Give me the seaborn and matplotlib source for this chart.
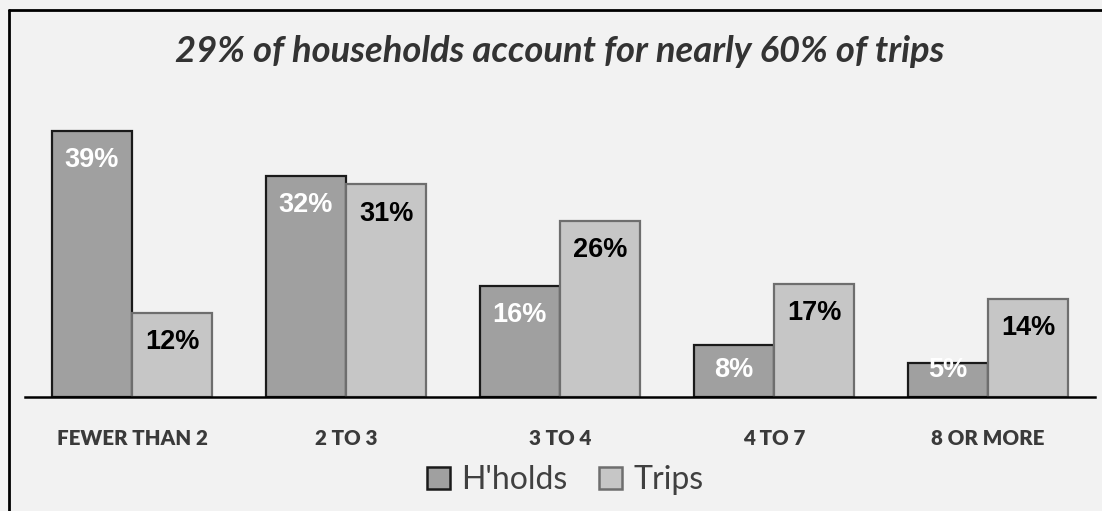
import pandas as pd
import matplotlib.pyplot as plt
import seaborn as sns
from matplotlib.lines import Line2D
from matplotlib.patches import Patch

# Data
categorias = ['FEWER THAN 2', '2 TO 3', '3 TO 4', '4 TO 7', '8 OR MORE']
hholds = [39.0, 32.4, 16.3, 7.6, 5.0]
trips = [12.3, 31.1, 25.8, 16.6, 14.4]
series = ["H'holds", 'Trips']
titulo = '29% of households account for nearly 60% of trips'

FUNDO = '#f2f2f2'
CORES = {"H'holds": '#a0a0a0', 'Trips': '#c6c6c6'}
BORDAS = {"H'holds": '#1a1a1a', 'Trips': '#6e6e6e'}
COR_ROTULO = {"H'holds": 'white', 'Trips': 'black'}

df = pd.DataFrame({
    'categoria': categorias * 2,
    'serie': [series[0]] * len(categorias) + [series[1]] * len(categorias),
    'valor': hholds + trips,
})

sns.set_theme(style='white')
plt.rcParams['font.family'] = ['Lato', 'DejaVu Sans']

fig = plt.figure(figsize=(11.02, 5.11), dpi=100, facecolor=FUNDO)
ax = fig.add_axes([25 / 1102, 1 - 397 / 511, 1070 / 1102, 287 / 511])
ax.set_facecolor(FUNDO)

sns.barplot(data=df, x='categoria', y='valor', hue='serie', order=categorias,
            hue_order=series, palette=CORES, width=0.75, saturation=1,
            linewidth=1.6, legend=False, ax=ax)

# Rotulos dentro das barras
for serie, cont in zip(series, ax.containers):
    for barra in cont:
        barra.set_edgecolor(BORDAS[serie])
        v = barra.get_height()
        y = max(v - 4.3, 3.9)
        ax.text(barra.get_x() + barra.get_width() / 2, y, f'{v:.0f}%',
                ha='center', va='center', fontsize=19.5, fontweight='bold',
                color=COR_ROTULO[serie], family=['Liberation Sans', 'DejaVu Sans'])

ax.set_xlim(-0.5, 4.5)
ax.set_ylim(0, 42)
ax.set_xlabel('')
ax.set_ylabel('')
ax.set_yticks([])
for lado in ['top', 'left', 'right']:
    ax.spines[lado].set_visible(False)
ax.spines['bottom'].set_color('black')
ax.spines['bottom'].set_linewidth(1.8)
ax.tick_params(axis='x', length=0, pad=23)
for rot in ax.get_xticklabels():
    rot.set_fontsize(14.8)
    rot.set_fontweight('heavy')
    rot.set_color('#3a3a3a')

# Titulo
fig.text(560 / 1102, 1 - 52 / 511, titulo, ha='center', va='center',
         fontsize=26.2, fontweight='bold', style='italic', color='#333333')

# Legenda
alcas = [Patch(facecolor=CORES[s], edgecolor=BORDAS[s], linewidth=1.8, label=s)
         for s in series]
leg = fig.legend(handles=alcas, loc='center', bbox_to_anchor=(565 / 1102, 1 - 480 / 511),
                 ncol=2, frameon=False, fontsize=23, handlelength=0.72,
                 handleheight=0.7, handletextpad=0.35, columnspacing=1.0)
for t in leg.get_texts():
    t.set_color('#404040')

# Moldura
fig.add_artist(Line2D([9 / 1102, 1], [1 - 10.5 / 511] * 2, transform=fig.transFigure,
                      color='black', linewidth=2))
fig.add_artist(Line2D([9 / 1102] * 2, [0, 1 - 10.5 / 511], transform=fig.transFigure,
                      color='black', linewidth=2))

fig.savefig('out.png', dpi=100, facecolor=FUNDO)
